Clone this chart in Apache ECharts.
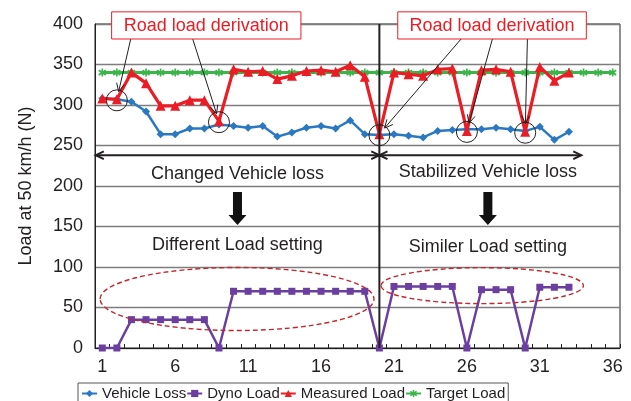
<!DOCTYPE html>
<html><head><meta charset="utf-8">
<script src="https://cdn.jsdelivr.net/npm/echarts@6/dist/echarts.min.js"></script>
<style>html,body{margin:0;padding:0;background:#fff}#c{width:631px;height:401px}</style>
</head><body><div id="c"></div>
<script>
const categories = ['1','2','3','4','5','6','7','8','9','10','11','12','13','14','15','16','17','18','19','20','21','22','23','24','25','26','27','28','29','30','31','32','33','34','35','36'];
const vehicleLoss = [308, 307, 304, 292, 264, 264, 271, 271, 276, 274, 272, 274, 261, 266, 272, 274, 271, 281, 264, 263, 264, 262, 260, 268, 269, 270, 270, 272, 270, 268, 273, 257, 267];
const dynoLoad = [0, 0, 35, 35, 35, 35, 35, 35, 0, 70, 70, 70, 70, 70, 70, 70, 70, 70, 70, 0, 76, 76, 76, 76, 76, 0, 72, 72, 72, 0, 75, 75, 75];
const measuredLoad = [308, 307, 340, 327, 299, 299, 306, 306, 280, 344, 341, 342, 332, 336, 342, 343, 341, 349, 335, 264, 340, 338, 336, 344, 345, 268, 343, 344, 341, 267, 347, 330, 340];
const targetLoad = [340, 340, 340, 340, 340, 340, 340, 340, 340, 340, 340, 340, 340, 340, 340, 340, 340, 340, 340, 340, 340, 340, 340, 340, 340, 340, 340, 340, 340, 340, 340, 340, 340, 340, 340, 340];
const yTicks = [0, 50, 100, 150, 200, 250, 300, 350, 400];
const seriesNames = ['Vehicle Loss', 'Dyno Load', 'Measured Load', 'Target Load'];
const derivedPoints = [2, 9, 20, 26, 30];

const FONT = "'Liberation Sans', Arial, Helvetica, sans-serif";
const INK = '#231f20';
const chart = echarts.init(document.getElementById('c'), null, {renderer: 'canvas'});

chart.setOption({
  animation: false,
  textStyle: {fontFamily: FONT},
  grid: {left: 95, right: 11, top: 24, bottom: 53, show: true, borderColor: INK, borderWidth: 1, backgroundColor: 'transparent'},
  legend: {
    data: seriesNames, left: 78, top: 383, itemGap: 0, itemWidth: 15, itemHeight: 9,
    padding: [3, 3, 3, 3], borderColor: '#555', borderWidth: 1,
    textStyle: {fontSize: 15, color: INK, fontFamily: FONT}
  },
  xAxis: {
    type: 'category', data: categories, boundaryGap: true,
    axisLine: {lineStyle: {color: INK, width: 1}},
    axisTick: {show: true, inside: true, length: 4, interval: 0, lineStyle: {color: INK}},
    axisLabel: {interval: 4, fontSize: 18, color: INK, margin: 10, fontFamily: FONT},
    splitLine: {show: false}
  },
  yAxis: {
    type: 'value', min: yTicks[0], max: yTicks[yTicks.length - 1], interval: 50,
    name: 'Load at 50 km/h (N)', nameLocation: 'middle', nameGap: 60, nameRotate: 90,
    nameTextStyle: {fontSize: 18, color: INK, fontFamily: FONT},
    axisLine: {show: true, lineStyle: {color: INK, width: 1}},
    axisTick: {show: false},
    axisLabel: {fontSize: 18, color: INK, margin: 12, fontFamily: FONT},
    splitLine: {show: true, lineStyle: {color: '#7d7d7d', width: 1.3}}
  },
  series: [
    {name: seriesNames[0], type: 'line', data: vehicleLoss, color: '#2a78c2', symbol: 'diamond', symbolSize: 8, showAllSymbol: true, lineStyle: {width: 2.5}, z: 3},
    {name: seriesNames[1], type: 'line', data: dynoLoad, color: '#6b3fa0', symbol: 'rect', symbolSize: 7, showAllSymbol: true, lineStyle: {width: 2.5}, z: 3},
    {name: seriesNames[3], type: 'line', data: targetLoad, color: '#3bb44a', symbol: 'path://M4,0L6,0L6,3L8.6,1.2L9.8,3L7,5L9.8,7L8.6,8.8L6,7L6,10L4,10L4,7L1.4,8.8L0.2,7L3,5L0.2,3L1.4,1.2L4,3Z', symbolSize: 8, showAllSymbol: true, lineStyle: {width: 3}, z: 2},
    {name: seriesNames[2], type: 'line', data: measuredLoad, color: '#ec1c24', symbol: 'triangle', symbolSize: 10, showAllSymbol: true, lineStyle: {width: 3.2}, z: 4}
  ]
});

// helpers converting data coordinates to pixels
const xa0 = chart.convertToPixel({xAxisIndex: 0}, categories[0]);
const xa1 = chart.convertToPixel({xAxisIndex: 0}, categories[1]);
const X = i => xa0 + (i - 1) * (xa1 - xa0);
const Y = v => chart.convertToPixel({yAxisIndex: 0}, v);

const g = [];
const lineEl = (x1, y1, x2, y2, w, color) => ({type: 'line', shape: {x1, y1, x2, y2}, style: {stroke: color || INK, lineWidth: w}, z: 50});
function head(x1, y1, x2, y2, len, w, ang) {
  const a = Math.atan2(y2 - y1, x2 - x1);
  const aa = ang || 0.45;
  return {type: 'polyline', shape: {points: [
    [x2 - len * Math.cos(a - aa), y2 - len * Math.sin(a - aa)], [x2, y2],
    [x2 - len * Math.cos(a + aa), y2 - len * Math.sin(a + aa)]]}, style: {stroke: INK, lineWidth: w, fill: 'none'}, z: 50};
}
function arrow(x1, y1, x2, y2, w, len, both) {
  g.push(lineEl(x1, y1, x2, y2, w));
  g.push(head(x1, y1, x2, y2, len, w));
  if (both) g.push(head(x2, y2, x1, y1, len, w));
}
const text = (t, x, y, color, size) => ({type: 'text', z: 60, style: {text: t, x, y, fill: color || INK, font: (size || 18) + 'px ' + FONT, textAlign: 'center', textVerticalAlign: 'middle', align: 'center', verticalAlign: 'middle'}});

// vertical divider at test 20
g.push(lineEl(X(20), Y(400), X(20), Y(0), 2));

// double arrows
const yArr = Y(238);
arrow(X(0.55), yArr, X(20), yArr, 2, 9, true);
arrow(X(20), yArr, X(33.85), yArr, 2, 9, true);

// section texts
g.push(text('Changed Vehicle loss', X(10.27), Y(214.5)));
g.push(text('Stabilized Vehicle loss', X(27.44), Y(217.6)));
g.push(text('Different Load setting', X(10.27), Y(127)));
g.push(text('Similer Load setting', X(27.44), Y(124.3)));

// thick down arrows
function downArrow(i) {
  const x = X(i), y1 = Y(192.5), y2 = Y(152);
  g.push({type: 'polygon', z: 55, shape: {points: [[x - 4.5, y1], [x + 4.5, y1], [x + 4.5, y2 - 10], [x + 9, y2 - 10], [x, y2], [x - 9, y2 - 10], [x - 4.5, y2 - 10]]}, style: {fill: '#111'}});
}
downArrow(10.27);
downArrow(27.44);

// dashed ellipses
const ell = (ci, cv, ri, rv) => ({type: 'ellipse', z: 45, shape: {cx: X(ci), cy: Y(cv), rx: Math.abs(X(ci + ri) - X(ci)), ry: Math.abs(Y(cv + rv) - Y(cv))}, style: {fill: 'none', stroke: '#c1272d', lineWidth: 1.4, lineDash: [5, 3]}});
g.push(ell(10.24, 60.5, 9.39, 38.9));
g.push(ell(27.05, 77, 6.94, 22.2));

// circles around derived points
derivedPoints.forEach(p => {
  g.push({type: 'circle', z: 50, shape: {cx: X(p), cy: Y(measuredLoad[p - 1]) + 1, r: 10.5}, style: {fill: 'none', stroke: INK, lineWidth: 1}});
});

// road load derivation boxes
function box(i1, i2, targets) {
  const x1 = X(i1), x2 = X(i2), yt = Y(415), yb = Y(381.5);
  targets.forEach(([si, p]) => {
    const sx = X(si), sy = yb;
    const px = X(p), py = Y(measuredLoad[p - 1]);
    const dx = px - sx, dy = py - sy, d = Math.hypot(dx, dy);
    const ex = px - dx / d * 8, ey = py - dy / d * 8;
    arrow(sx, sy, ex, ey, 1, 9, false);
  });
  g.push({type: 'rect', z: 70, shape: {x: x1, y: yt, width: x2 - x1, height: yb - yt}, style: {fill: '#fff', stroke: '#ec1c24', lineWidth: 1}});
  const t = text('Road load derivation', (x1 + x2) / 2, (yt + yb) / 2 + 0.5, '#ec1c24', 18);
  t.z = 71;
  g.push(t);
}
box(1.64, 14.62, [[2.95, 2], [7.2, 9]]);
box(21.26, 34.19, [[25.6, 20], [27.75, 26], [30.15, 30]]);

chart.setOption({graphic: {elements: g}});
</script>
</body></html>
